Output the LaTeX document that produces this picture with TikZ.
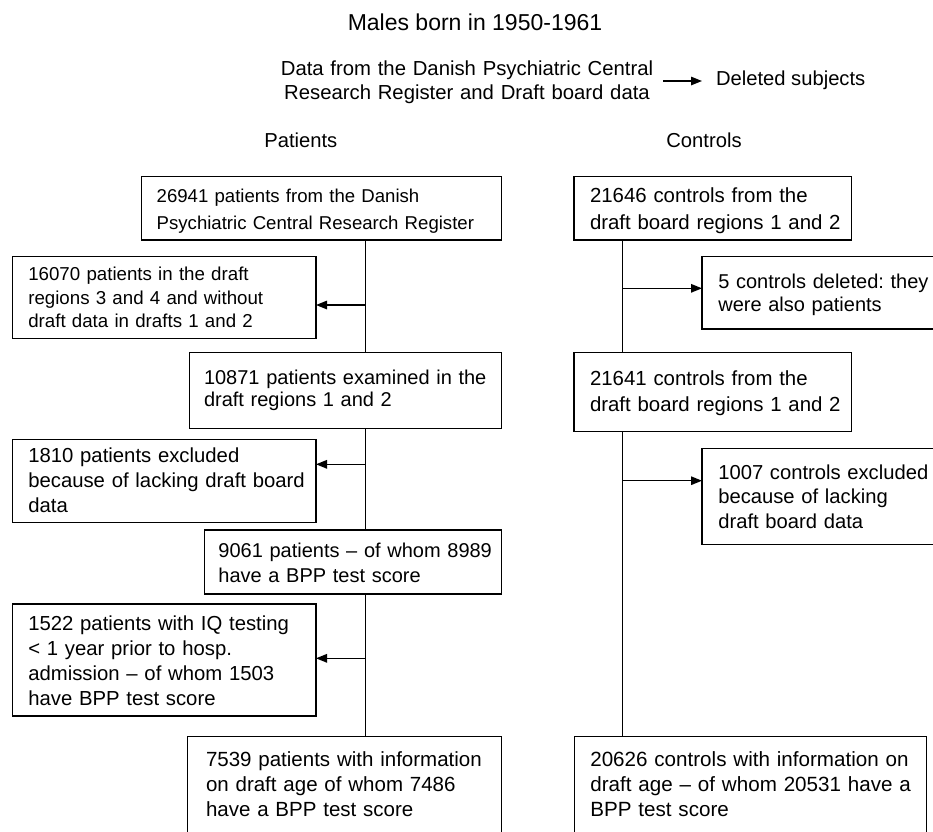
\documentclass[tikz,border=0pt]{standalone}
\usepackage{fontspec}
\setmainfont{Liberation Sans}
\usetikzlibrary{arrows.meta}
\frenchspacing
\tikzset{
  boxx/.style={draw, line width=1.4pt, inner ysep=0pt, outer sep=0pt, anchor=north west, align=left},
  fs/.style n args={2}{font={\fontsize{#1pt}{#2pt}\selectfont}},
  arr/.style={line width=1.4pt, -{Triangle[length=11pt,width=8.5pt]}},
  ln/.style={line width=1.4pt},
  hdr/.style={inner sep=0pt, outer sep=0pt, font={\fontsize{20.2pt}{24pt}\selectfont}}
}
\newcommand{\topr}[1]{\rule{0pt}{#1pt}}
\newcommand{\botr}[1]{\rule[-#1pt]{0pt}{#1pt}}
\begin{document}
\begin{tikzpicture}[x=1pt,y=-1pt]
\useasboundingbox (0,0) rectangle (933,831);
\clip (0,0) rectangle (933,831);
% headings
\node[hdr, anchor=base, font={\fontsize{23pt}{27pt}\selectfont}] (title) at (475,30) {Males born in 1950-1961};
\node[hdr, anchor=base, text width=420pt, align=center, font={\fontsize{20.3pt}{24pt}\selectfont}] (data) at (467,75)
  {Data from the Danish Psychiatric Central\\Research Register and Draft board data};
\node[hdr, anchor=base west] (del) at (716,85) {Deleted subjects};
\coordinate (la) at (663,81);
\coordinate (lb) at (702,81);
\draw[arr] (la) -- (lb);
\node[hdr, anchor=base] (hp) at (300.8,147) {Patients};
\node[hdr, anchor=base] (hc) at (704,147) {Controls};
% patient boxes
\node[boxx, fs={18.6}{26.6}, inner xsep=15pt, text width=330pt] (b1) at (141.7,176.7)
  {\topr{26}\mbox{26941 patients from the Danish}\\\mbox{Psychiatric Central Research Register}\botr{10.7}};
\node[boxx, fs={18.7}{23.3}, inner xsep=16pt, text width=271.7pt] (b2) at (12.3,256.7)
  {\topr{24}\mbox{16070 patients in the draft}\\\mbox{regions 3 and 4 and without}\\\mbox{draft data in drafts 1 and 2}\botr{11}};
\node[boxx, fs={20.0}{22.7}, inner xsep=14.7pt, text width=283pt] (b3) at (189.3,352.3)
  {\topr{31.7}\mbox{10871 patients examined in the}\\\mbox{draft regions 1 and 2}\botr{21.6}};
\node[boxx, fs={20.3}{25}, inner xsep=16pt, text width=271.7pt] (b4) at (12.3,439.4)
  {\topr{23.3}\mbox{1810 patients excluded}\\\mbox{because of lacking draft board}\\\mbox{data}\botr{10}};
\node[boxx, fs={20.0}{25.4}, inner xsep=13.7pt, text width=269.6pt] (b5) at (204.7,530)
  {\topr{27.3}\mbox{9061 patients -- of whom 8989}\\\mbox{have a BPP test score}\botr{11.3}};
\node[boxx, fs={20.3}{25}, inner xsep=16pt, text width=271.7pt] (b6) at (12.3,604)
  {\topr{26}\mbox{1522 patients with IQ testing}\\\mbox{< 1 year prior to hosp.}\\\mbox{admission -- of whom 1503}\\\mbox{have BPP test score}\botr{11}};
\node[boxx, fs={20.5}{25}, inner xsep=18.7pt, text width=277pt] (b7) at (187.3,736.7)
  {\topr{30}\mbox{7539 patients with information}\\\mbox{on draft age of whom 7486}\\\mbox{have a BPP test score}\botr{17.3}};
% control boxes
\node[boxx, fs={20.4}{26.6}, inner xsep=16pt, text width=245.7pt] (c1) at (574,176.7)
  {\topr{26}\mbox{21646 controls from the}\\\mbox{draft board regions 1 and 2}\botr{10.7}};
\node[boxx, fs={20.0}{23.4}, inner xsep=16.3pt, text width=210.4pt] (c2) at (702,256.7)
  {\topr{31.6}\mbox{5 controls deleted: they}\\\mbox{were also patients}\botr{17.3}};
\node[boxx, fs={20.4}{26.7}, inner xsep=16pt, text width=245.7pt] (c3) at (574,352.3)
  {\topr{32.7}\mbox{21641 controls from the}\\\mbox{draft board regions 1 and 2}\botr{20}};
\node[boxx, fs={20.2}{24.5}, inner xsep=16.3pt, text width=210.4pt] (c4) at (702,448.3)
  {\topr{31}\mbox{1007 controls excluded}\\\mbox{because of lacking}\\\mbox{draft board data}\botr{16}};
\node[boxx, fs={20.6}{25.3}, inner xsep=16pt, text width=320.4pt] (c5) at (574.3,736.7)
  {\topr{29.3}\mbox{20626 controls with information on}\\\mbox{draft age -- of whom 20531 have a}\\\mbox{BPP test score}\botr{17}};
% junctions
\coordinate (j1) at (365.7,305);
\coordinate (j2) at (365.7,464.3);
\coordinate (j3) at (365.7,658.3);
\coordinate (k1) at (622.3,288.3);
\coordinate (k2) at (622.3,480.7);
% patient trunk
\draw[ln] (b1.south -| j1) -- (b3.north -| j1);
\draw[ln] (b3.south -| j1) -- (b5.north -| j1);
\draw[ln] (b5.south -| j1) -- (b7.north -| j1);
\draw[arr] (j1) -- (j1 -| b2.east);
\draw[arr] (j2) -- (j2 -| b4.east);
\draw[arr] (j3) -- (j3 -| b6.east);
% control trunk
\draw[ln] (c1.south -| k1) -- (c3.north -| k1);
\draw[ln] (c3.south -| k1) -- (c5.north -| k1);
\draw[arr] (k1) -- (k1 -| c2.west);
\draw[arr] (k2) -- (k2 -| c4.west);
\end{tikzpicture}
\end{document}
